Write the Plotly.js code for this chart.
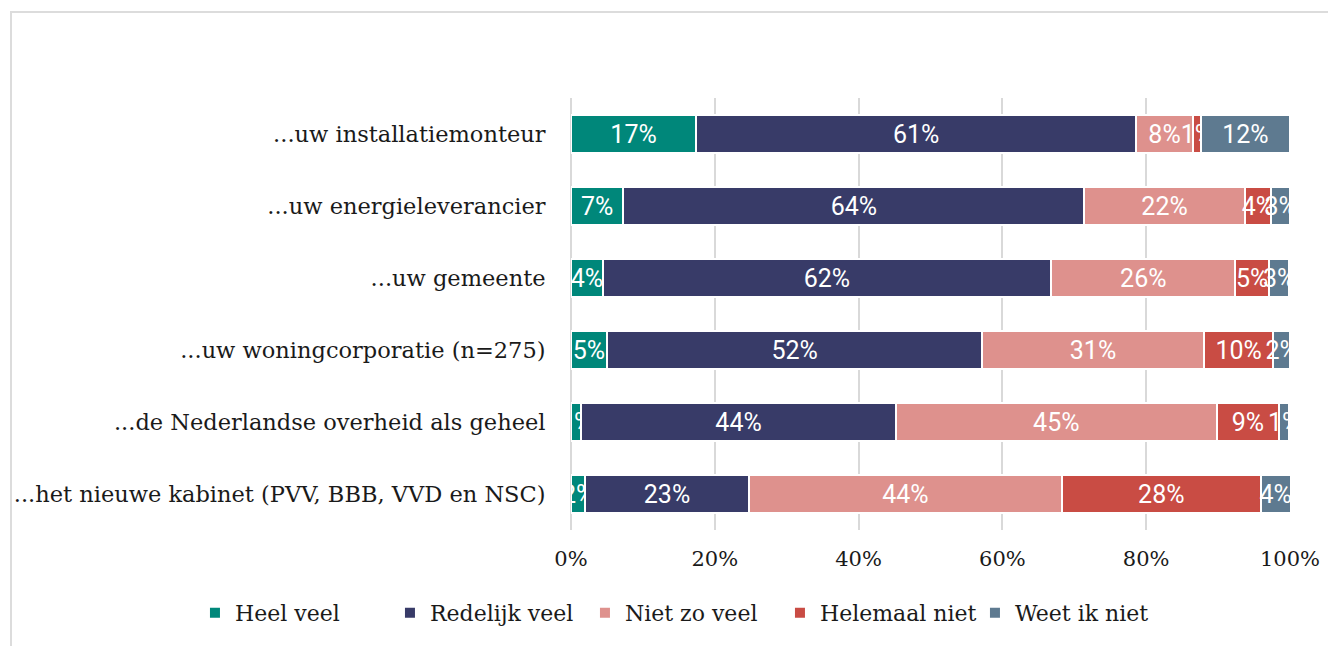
<!DOCTYPE html>
<html>
<head>
<meta charset="utf-8">
<script src="https://cdn.plot.ly/plotly-3.0.1.min.js"></script>
<style>
  body { margin: 0; background: #fff; }
  #frame { position: absolute; left: 10px; top: 11px; width: 1330px; height: 650px; border-top: 2px solid #dcdcdc; border-left: 2px solid #dcdcdc; }
  #chart { position: absolute; left: 0; top: 0; width: 1328px; height: 646px; }
</style>
</head>
<body>
<div id="frame"></div>
<div id="chart"></div>
<script>
// Categorieën (van boven naar beneden)
const categories = [
  '...uw installatiemonteur',
  '...uw energieleverancier',
  '...uw gemeente',
  '...uw woningcorporatie (n=275)',
  '...de Nederlandse overheid als geheel',
  '...het nieuwe kabinet (PVV, BBB, VVD en NSC)'
];

// Aandelen per antwoord (%)
const heelVeel      = [17.4, 7.3, 4.4, 5.0, 1.4, 2.0];
const redelijkVeel  = [61.2, 64.1, 62.4, 52.2, 43.8, 22.7];
const nietZoVeel    = [7.9, 22.3, 25.6, 30.8, 44.6, 43.6];
const helemaalNiet  = [1.1, 3.7, 4.7, 9.7, 8.7, 27.6];
const weetIkNiet    = [12.4, 2.6, 2.8, 2.3, 1.4, 4.2];

const seriesNames = ['Heel veel', 'Redelijk veel', 'Niet zo veel', 'Helemaal niet', 'Weet ik niet'];
const seriesColors = ['#00877a', '#383b68', '#de918d', '#c94c44', '#5e7a90'];
const seriesValues = [heelVeel, redelijkVeel, nietZoVeel, helemaalNiet, weetIkNiet];

const data = seriesValues.map((vals, i) => ({
  type: 'bar',
  orientation: 'h',
  name: seriesNames[i],
  y: categories,
  x: vals,
  marker: { color: seriesColors[i], line: { color: '#ffffff', width: 2 } },
  texttemplate: '%{x:.0f}%',
  textposition: 'inside',
  insidetextanchor: 'middle',
  textangle: 0,
  constraintext: 'none',
  textfont: { family: 'Roboto', size: 25, color: '#ffffff' },
  hoverinfo: 'skip'
}));

const layout = {
  width: 1328,
  height: 646,
  barmode: 'stack',
  bargap: 0.48,
  paper_bgcolor: 'rgba(0,0,0,0)',
  plot_bgcolor: 'rgba(0,0,0,0)',
  margin: { t: 98, r: 38, b: 116, l: 571 },
  font: { family: 'DejaVu Serif', color: '#1a1a1a' },
  xaxis: {
    range: [0, 100],
    tickvals: [0, 20, 40, 60, 80, 100],
    ticktext: ['0%', '20%', '40%', '60%', '80%', '100%'],
    showgrid: true,
    gridcolor: '#d9d9d9',
    gridwidth: 2,
    zeroline: true,
    zerolinecolor: '#d9d9d9',
    zerolinewidth: 2,
    ticks: 'outside',
    ticklen: 10,
    tickcolor: 'rgba(0,0,0,0)',
    tickfont: { family: 'DejaVu Serif', size: 21, color: '#1a1a1a' },
    fixedrange: true
  },
  yaxis: {
    autorange: 'reversed',
    showgrid: false,
    ticks: 'outside',
    ticklen: 20,
    tickcolor: 'rgba(0,0,0,0)',
    tickfont: { family: 'DejaVu Serif', size: 22.5, color: '#1a1a1a' },
    fixedrange: true
  },
  showlegend: true,
  legend: {
    orientation: 'h',
    x: -0.523,
    xanchor: 'left',
    y: -0.192,
    yanchor: 'middle',
    entrywidth: 150,
    entrywidthmode: 'pixels',
    font: { family: 'DejaVu Serif', size: 22, color: '#1a1a1a' },
    traceorder: 'normal'
  }
};

Plotly.newPlot('chart', data, layout, { displayModeBar: false, staticPlot: true });
</script>
</body>
</html>
